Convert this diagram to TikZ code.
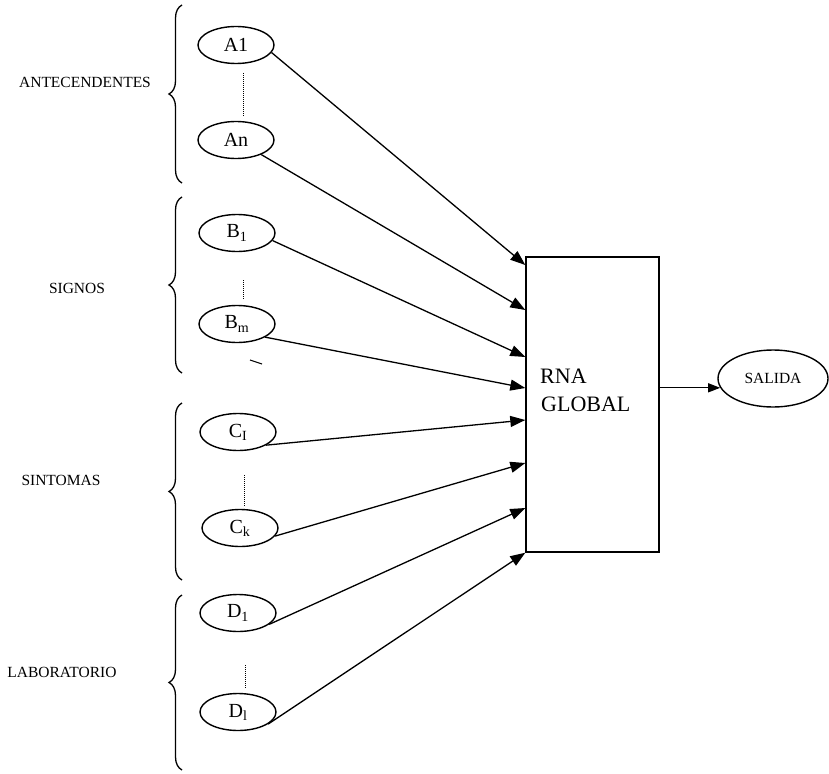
\documentclass[tikz,border=0pt]{standalone}
\usepackage{fontspec}
\setmainfont{Liberation Serif}
\usetikzlibrary{arrows.meta,decorations.pathreplacing,shapes.geometric}
\begin{document}
\begin{tikzpicture}[x=1pt,y=-1pt,
 inp/.style={ellipse,draw,line width=1.4pt,minimum width=76pt,minimum height=37pt,inner sep=0pt,font=\fontsize{20}{22}\selectfont},
 grp/.style={font=\fontsize{15.5}{17}\selectfont,inner sep=0pt},
 conn/.style={line width=1.3pt,-{Triangle[length=15pt,width=11pt]}},
 dotl/.style={line width=1pt,dash pattern=on 1pt off 1pt},
 brc/.style={decorate,decoration={brace,amplitude=13pt},line width=1.3pt}]
\useasboundingbox (0,0) rectangle (829,773);

% group labels
\node[grp] (lA) at (85,82) {ANTECENDENTES};
\node[grp] (lB) at (77,288) {SIGNOS};
\node[grp] (lC) at (61,480) {SINTOMAS};
\node[grp] (lD) at (62,672) {LABORATORIO};

% braces
\draw[brc] (182,183) -- (182,5);
\draw[brc] (182,373) -- (182,197);
\draw[brc] (182,580) -- (182,403);
\draw[brc] (182,770) -- (182,595);

% input nodes
\node[inp] (a1) at (236,45) {A1};
\node[inp] (an) at (236,140) {An};
\node[inp] (b1) at (237,233) {B\textsubscript{1}};
\node[inp] (bm) at (237,324) {B\textsubscript{m}};
\node[inp] (c1) at (238,432) {C\textsubscript{I}};
\node[inp] (ck) at (240,528) {C\textsubscript{k}};
\node[inp] (d1) at (238,613) {D\textsubscript{1}};
\node[inp] (dl) at (238,712) {D\textsubscript{l}};

% dotted links
\draw[dotl] (243,73) -- (243,117);
\draw[dotl] (243,280) -- (243,300);
\draw[dotl] (244,475) -- (244,507);
\draw[dotl] (245,665) -- (245,689);

% stray mark
\draw[line width=1.1pt] (250,360) -- (262,364);

% central box
\node[draw,line width=1.4pt,minimum width=133pt,minimum height=295pt,inner sep=0pt] (box) at (592.5,404.5) {};
\node[anchor=base west,inner sep=0pt,font=\fontsize{22}{26}\selectfont] (rna) at (540,383) {RNA};
\node[anchor=base west,inner sep=0pt,font=\fontsize{22}{26}\selectfont] (glob) at (541,411) {GLOBAL};

% output
\node[ellipse,draw,line width=1.4pt,minimum width=110pt,minimum height=57pt,inner sep=0pt,font=\fontsize{15.5}{17}\selectfont] (sal) at (773,378.5) {SALIDA};

% connectors
\draw[conn] (a1.-12) -- (box.west |- 0,265);
\draw[conn] (an.-30) -- (box.west |- 0,310);
\draw[conn] (b1.-12) -- (box.west |- 0,357);
\draw[conn] (bm.-25) -- (box.west |- 0,388);
\draw[conn] (c1.-25) -- (box.west |- 0,420);
\draw[conn] (ck.-13) -- (box.west |- 0,463);
\draw[conn] (d1.-20) -- (box.west |- 0,508);
\draw[conn] (dl.-22) -- (box.south west);
\draw[line width=1.2pt,-{Triangle[length=12pt,width=9pt]}] (box.east |- sal.190) -- (sal.190);
\end{tikzpicture}
\end{document}
